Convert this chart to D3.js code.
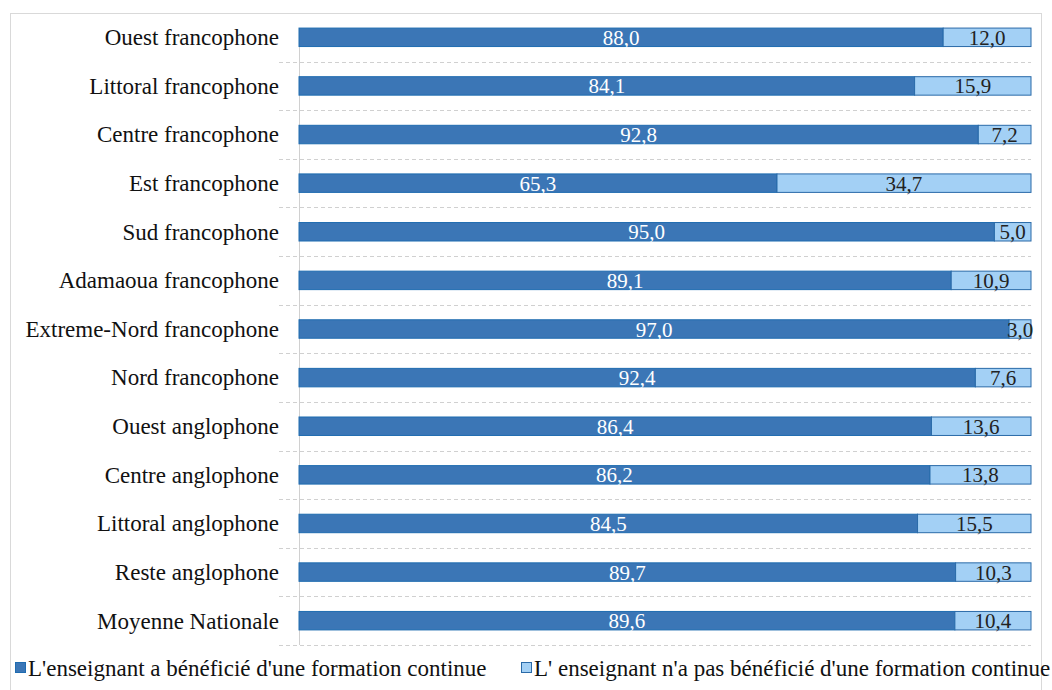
<!DOCTYPE html>
<html><head><meta charset="utf-8">
<script src="https://cdn.jsdelivr.net/npm/d3@7"></script>
<style>body{margin:0;background:#fff}svg{display:block}</style>
</head><body>
<svg id="c" width="1052" height="690"></svg>
<script>
const categories = ["Ouest francophone","Littoral francophone","Centre francophone","Est francophone","Sud francophone","Adamaoua francophone","Extreme-Nord francophone","Nord francophone","Ouest anglophone","Centre anglophone","Littoral anglophone","Reste anglophone","Moyenne Nationale"];
const withTraining = [88.0,84.1,92.8,65.3,95.0,89.1,97.0,92.4,86.4,86.2,84.5,89.7,89.6];
const withoutTraining = [12.0,15.9,7.2,34.7,5.0,10.9,3.0,7.6,13.6,13.8,15.5,10.3,10.4];
const seriesNames = ["L'enseignant a bénéficié d'une formation continue","L' enseignant n'a pas bénéficié d'une formation continue"];
const colors = ["#3b76b6","#a3d0f5"];

(function(){
const svg = d3.select("#c");
const font = "'Liberation Serif', 'Times New Roman', serif";
svg.append("rect").attr("x",10.5).attr("y",13.5).attr("width",1031).attr("height",700).attr("fill","#fff").attr("stroke","#d9d9d9");

const pLeft = 299, pRight = 1031, pTop = 13, pBottom = 645;
const x = d3.scaleLinear().domain([0,100]).range([pLeft,pRight]);
const y = d3.scaleBand().domain(categories).range([pTop,pBottom]).paddingInner(0.62).paddingOuter(0.31);

const step = y.step();
const gy = categories.map((c)=> y(c) - (step - y.bandwidth())/2).slice(1).concat([pBottom]);
svg.append("g").selectAll("line").data(gy).join("line")
  .attr("x1",pLeft-20).attr("x2",pRight).attr("y1",d=>Math.round(d)+0.5).attr("y2",d=>Math.round(d)+0.5)
  .attr("stroke","#d0d0d0").attr("stroke-dasharray","4,3");

svg.append("line").attr("x1",pLeft+0.5).attr("x2",pLeft+0.5).attr("y1",pTop+20).attr("y2",pBottom).attr("stroke","#d0d0d0");

const rows = categories.map((c,i)=>({c, a:withTraining[i], b:withoutTraining[i]}));
const g = svg.append("g");
g.selectAll("rect.a").data(rows).join("rect").attr("class","a")
  .attr("x",x(0)).attr("y",d=>y(d.c)).attr("width",d=>x(d.a)-x(0)).attr("height",y.bandwidth())
  .attr("fill",colors[0]).attr("stroke","#1f6cb0").attr("stroke-width",1);
g.selectAll("rect.b").data(rows).join("rect").attr("class","b")
  .attr("x",d=>x(d.a)).attr("y",d=>y(d.c)).attr("width",d=>x(d.a+d.b)-x(d.a)).attr("height",y.bandwidth())
  .attr("fill",colors[1]).attr("stroke","#2a6aa8").attr("stroke-width",1);

const fmt = v => v.toFixed(1).replace(".",",");
g.selectAll("text.a").data(rows).join("text").attr("class","a")
  .attr("x",d=>(x(0)+x(d.a))/2).attr("y",d=>y(d.c)+y.bandwidth()/2).attr("dy","0.36em")
  .attr("text-anchor","middle").attr("fill","#fff").attr("font-family",font).attr("font-size",21).text(d=>fmt(d.a));
g.selectAll("text.b").data(rows).join("text").attr("class","b")
  .attr("x",d=>(x(d.a)+x(d.a+d.b))/2).attr("y",d=>y(d.c)+y.bandwidth()/2).attr("dy","0.36em")
  .attr("text-anchor","middle").attr("fill","#222").attr("font-family",font).attr("font-size",21).text(d=>fmt(d.b));

const yAxis = svg.append("g").attr("transform",`translate(${pLeft-20},0)`)
  .call(d3.axisLeft(y).tickSize(0).tickPadding(0));
yAxis.select(".domain").remove();
yAxis.selectAll("text").attr("font-family",font).attr("font-size",23).attr("fill","#111").attr("dy","0.34em");

const lg = svg.append("g").attr("transform","translate(15,668)");
seriesNames.forEach((n,i)=>{
  const it = lg.append("g").attr("transform",`translate(${i===0?0:506},0)`);
  it.append("rect").attr("x",0.5).attr("y",-5.5).attr("width",10).attr("height",10).attr("fill",colors[i]).attr("stroke",i? "#2a6aa8":"#1f6cb0");
  it.append("text").attr("x",13).attr("y",0).attr("dy","0.34em").attr("font-family",font).attr("font-size",23).attr("fill","#111").text(n);
});
})();
</script>
</body></html>
